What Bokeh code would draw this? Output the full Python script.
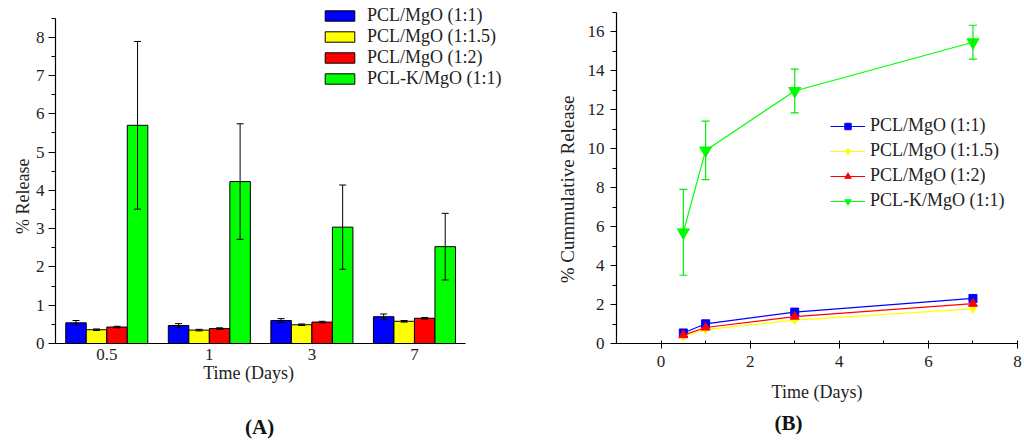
import math
import numpy as np
from bokeh.plotting import figure
from bokeh.layouts import row
from bokeh.models import (ColumnDataSource, Range1d, FixedTicker, LinearAxis,
                          Whisker, TeeHead, Legend, LegendItem)
from bokeh.embed import file_html
from bokeh.resources import INLINE

FONT = "Liberation Serif"

days = ["0.5", "1", "3", "7"]
series = ["PCL/MgO (1:1)", "PCL/MgO (1:1.5)", "PCL/MgO (1:2)", "PCL-K/MgO (1:1)"]
colors = ["#0000ff", "#ffff00", "#ff0000", "#00ff00"]

# (A) % release at each time point
rel_11 = [0.54, 0.47, 0.60, 0.70]
rel_115 = [0.36, 0.35, 0.49, 0.58]
rel_12 = [0.43, 0.39, 0.56, 0.66]
rel_k11 = [5.70, 4.23, 3.04, 2.53]
err_11 = [0.06, 0.05, 0.05, 0.07]
err_115 = [0.02, 0.02, 0.02, 0.02]
err_12 = [0.02, 0.02, 0.02, 0.02]
err_k11 = [2.19, 1.51, 1.10, 0.87]

# (B) cumulative release
t_days = [0.5, 1, 3, 7]
cum_11 = [0.54, 1.01, 1.61, 2.31]
cum_115 = [0.36, 0.71, 1.20, 1.78]
cum_12 = [0.43, 0.82, 1.38, 2.04]
cum_k11 = [5.70, 9.90, 12.95, 15.45]
cum_k11_err = [2.20, 1.50, 1.12, 0.87]


def style_axes(p):
    for ax in p.axis:
        ax.axis_line_color = "black"
        ax.axis_line_width = 1.2
        ax.major_tick_line_color = "black"
        ax.minor_tick_line_color = "black"
        ax.major_label_text_font = FONT
        ax.major_label_text_font_size = "17px"
        ax.major_label_text_color = "#222222"
    p.grid.visible = False
    p.outline_line_color = None


def text_axis(p, side, pos, text, size, bold, standoff):
    # an empty axis that only carries one text at a chosen data position
    ax = LinearAxis(ticker=FixedTicker(ticks=[pos]), major_label_overrides={pos: text})
    ax.axis_line_color = None
    ax.major_tick_line_color = None
    ax.minor_tick_line_color = None
    ax.major_tick_in = ax.major_tick_out = 0
    ax.minor_tick_in = ax.minor_tick_out = 0
    ax.major_label_standoff = standoff
    ax.major_label_text_font = FONT
    ax.major_label_text_font_size = size
    ax.major_label_text_font_style = "bold" if bold else "normal"
    ax.major_label_text_color = "#111111" if bold else "#222222"
    if side == "left":
        ax.major_label_orientation = math.pi / 2
    p.add_layout(ax, side)


# ---------------- panel A ----------------
# group i sits in the slot [i, i+1] of a numeric axis
centers = np.arange(len(days)) + 0.5
offsets = [-0.3, -0.1, 0.1, 0.3]
rels = [rel_11, rel_115, rel_12, rel_k11]
errs = [err_11, err_115, err_12, err_k11]

pa = figure(width=520, height=441, x_range=Range1d(0, 4.534),
            y_range=Range1d(0, 8.96), output_backend="svg", toolbar_location=None,
            title=None, min_border_left=53, min_border_right=0, min_border_top=0,
            min_border_bottom=97)

items_a = []
for i in range(4):
    src = ColumnDataSource(dict(x=centers + offsets[i], top=rels[i],
                                up=np.add(rels[i], errs[i]),
                                lo=np.subtract(rels[i], errs[i])))
    r = pa.vbar(x="x", top="top", width=0.2, source=src,
                fill_color=colors[i], line_color="black", line_width=1)
    items_a.append(LegendItem(label=series[i], renderers=[r]))
    pa.add_layout(Whisker(base="x", upper="up", lower="lo", source=src,
                          line_color="black", line_width=1, level="annotation",
                          upper_head=TeeHead(size=7, line_color="black", line_width=1),
                          lower_head=TeeHead(size=7, line_color="black", line_width=1)))

leg_a = Legend(items=items_a, location=(266, 254), padding=0, margin=0, spacing=0,
               glyph_width=37, glyph_height=13, label_height=18, label_standoff=9,
               label_text_font=FONT, label_text_font_size="18px",
               label_text_color="#222222", border_line_color=None,
               background_fill_alpha=0)
pa.add_layout(leg_a)

style_axes(pa)
pa.xaxis.bounds = (0, 4)
pa.xaxis.ticker = FixedTicker(ticks=list(centers))
pa.xaxis.major_label_overrides = {float(c): d for c, d in zip(centers, days)}
pa.xaxis.major_tick_out = 0
pa.xaxis.major_tick_in = 0
pa.xaxis.minor_tick_out = 0
pa.xaxis.minor_tick_in = 0
pa.xaxis.major_label_standoff = 5
pa.yaxis.bounds = (0, 8.5)
pa.yaxis.ticker = FixedTicker(ticks=list(range(0, 9)),
                              minor_ticks=[0.5 + k for k in range(9)])
pa.yaxis.major_tick_out = 7
pa.yaxis.major_tick_in = 0
pa.yaxis.minor_tick_out = 4
pa.yaxis.minor_tick_in = 0
pa.yaxis.major_label_standoff = 4
text_axis(pa, "below", 1.883, "Time (Days)", "18px", False, 0)
text_axis(pa, "below", 1.99, "(A)", "21px", True, 29)
text_axis(pa, "left", 4.83, "% Release", "18px", False, 9)

# ---------------- panel B ----------------
pb = figure(width=504, height=441, x_range=Range1d(-1, 8), y_range=Range1d(0, 17.59),
            output_backend="svg", toolbar_location=None, title=None,
            min_border_left=96, min_border_right=7, min_border_top=0,
            min_border_bottom=97)

cum_series = [cum_11, cum_115, cum_12, cum_k11]
markers = ["square", "diamond", "triangle", "inverted_triangle"]
msizes = [8, 9, 9, 12]
items_b = []
for i in range(4):
    ln = pb.line(t_days, cum_series[i], line_color=colors[i], line_width=1.2)
    sc = pb.scatter(t_days, cum_series[i], marker=markers[i], size=msizes[i],
                    fill_color=colors[i], line_color=colors[i])
    items_b.append(LegendItem(label=series[i], renderers=[ln, sc]))

src_b = ColumnDataSource(dict(t=t_days, up=np.add(cum_k11, cum_k11_err),
                              lo=np.subtract(cum_k11, cum_k11_err)))
pb.add_layout(Whisker(base="t", upper="up", lower="lo", source=src_b,
                      line_color="#00ee00", line_width=1.2, level="annotation",
                      upper_head=TeeHead(size=8, line_color="#00ee00", line_width=1.2),
                      lower_head=TeeHead(size=8, line_color="#00ee00", line_width=1.2)))

leg_b = Legend(items=items_b, location=(214, 132), padding=0, margin=0, spacing=4,
               glyph_width=35, glyph_height=16, label_height=20, label_standoff=5,
               label_text_font=FONT, label_text_font_size="18px",
               label_text_color="#222222", border_line_color=None,
               background_fill_alpha=0)
pb.add_layout(leg_b)

style_axes(pb)
pb.xaxis.axis_label = "Time (Days)"
pb.xaxis.axis_label_text_font = FONT
pb.xaxis.axis_label_text_font_size = "18px"
pb.xaxis.axis_label_text_font_style = "normal"
pb.xaxis.axis_label_text_color = "#222222"
pb.yaxis.bounds = (0, 17)
pb.xaxis.ticker = FixedTicker(ticks=[0, 2, 4, 6, 8], minor_ticks=[-1, 1, 3, 5, 7])
pb.yaxis.ticker = FixedTicker(ticks=list(range(0, 17, 2)),
                              minor_ticks=list(range(1, 18, 2)))
pb.xaxis.major_tick_out = 5
pb.xaxis.major_tick_in = 3
pb.xaxis.minor_tick_out = 0
pb.xaxis.minor_tick_in = 3
pb.yaxis.major_tick_out = 6
pb.yaxis.major_tick_in = 0
pb.yaxis.minor_tick_out = 4
pb.yaxis.minor_tick_in = 0
pb.xaxis.major_label_standoff = 7
pb.yaxis.major_label_standoff = 6
pb.xaxis.axis_label_standoff = 12
text_axis(pb, "below", 2.86, "(B)", "21px", True, 6)
text_axis(pb, "left", 12.72, "% Cummulative Release", "19px", False, 17)

p = row(pa, pb)
open("out.html", "w").write(file_html(p, INLINE))
